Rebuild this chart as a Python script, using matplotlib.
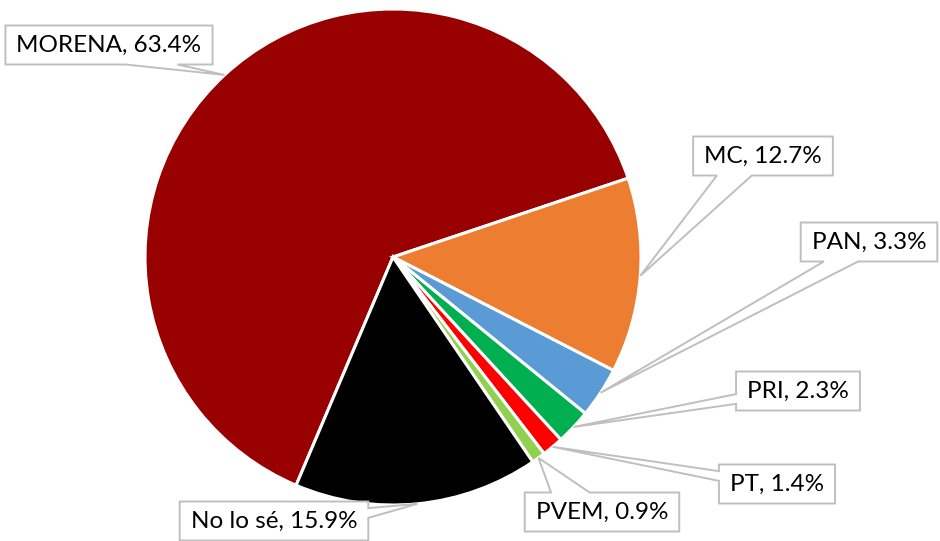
import numpy as np
import matplotlib.pyplot as plt
from matplotlib.patches import Polygon

# data
parties = ['MORENA', 'MC', 'PAN', 'PRI', 'PT', 'PVEM', 'No lo sé']
shares = [63.4, 12.7, 3.3, 2.3, 1.4, 0.9, 15.9]
colors = ['#990000', '#ED7D31', '#5B9BD5', '#00B050', '#FF0000', '#92D050', '#000000']

# label box centres (pixel coords of the 940x541 image, y from top) and
# the box side the callout pointer leaves from
label_pos = [(109, 45), (763, 156), (869, 242), (798, 391), (777, 484), (602, 512), (274, 521)]
label_side = ['bottom', 'bottom', 'bottom', 'left', 'left', 'top', 'right']

W, H = 940, 541
cx, cy, r = 393, H - 257, 248
PADX, HALF_H = 11, 19.5
GRAY = '#BFBFBF'

plt.rcParams['font.family'] = ['Lato', 'DejaVu Sans']

fig = plt.figure(figsize=(9.4, 5.41), dpi=100)
ax = fig.add_axes([0, 0, 1, 1])

wedges, _ = ax.pie(shares, colors=colors, startangle=247, counterclock=False,
                   center=(cx, cy), radius=r,
                   wedgeprops=dict(edgecolor='white', linewidth=2.2))

# pie() resets the limits, so set them afterwards
ax.set_xlim(0, W)
ax.set_ylim(0, H)
ax.set_aspect('equal')
ax.axis('off')

renderer = fig.canvas.get_renderer()
inv = ax.transData.inverted()


def callout(x0, x1, y0, y1, tip, side):
    # box outline (counter-clockwise) with a wedge pointer cut into one side
    tx, ty = tip
    if side in ('bottom', 'top'):
        span = x1 - x0
        if abs(tx - x0) < abs(tx - x1):
            a, b = x0 + 0.17 * span, x0 + 0.42 * span
        else:
            a, b = x1 - 0.42 * span, x1 - 0.17 * span
    else:
        span = y1 - y0
        if abs(ty - y0) < abs(ty - y1):
            a, b = y0 + 0.17 * span, y0 + 0.42 * span
        else:
            a, b = y1 - 0.42 * span, y1 - 0.17 * span
    pts = [(x0, y0)]
    if side == 'bottom':
        pts += [(a, y0), tip, (b, y0)]
    pts.append((x1, y0))
    if side == 'right':
        pts += [(x1, a), tip, (x1, b)]
    pts.append((x1, y1))
    if side == 'top':
        pts += [(b, y1), tip, (a, y1)]
    pts.append((x0, y1))
    if side == 'left':
        pts += [(x0, b), tip, (x0, a)]
    return pts


for w, name, val, (lx, ly), side in zip(wedges, parties, shares, label_pos, label_side):
    mid = np.deg2rad((w.theta1 + w.theta2) / 2)
    tip = (cx + r * np.cos(mid), cy + r * np.sin(mid))
    t = ax.text(lx, H - ly, f'{name}, {val}%', ha='center', va='center',
                fontsize=17.5, color='black', zorder=5)
    bb = t.get_window_extent(renderer).transformed(inv)
    x0, x1 = bb.x0 - PADX, bb.x1 + PADX
    y0, y1 = H - ly - HALF_H, H - ly + HALF_H
    ax.add_patch(Polygon(callout(x0, x1, y0, y1, tip, side), closed=True,
                         fc='white', ec=GRAY, lw=1.4, zorder=4))

fig.savefig('out.png', dpi=100)
